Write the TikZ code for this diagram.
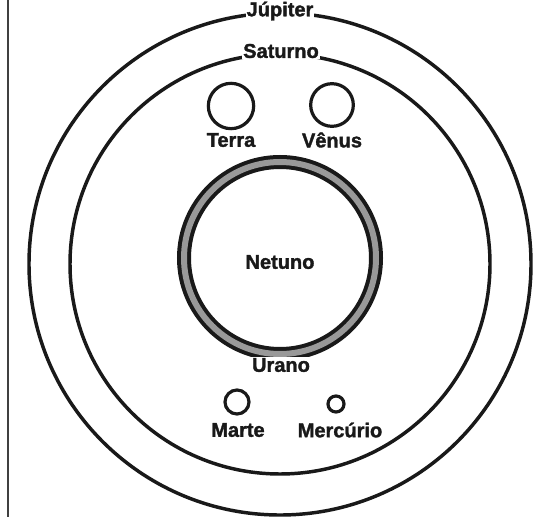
\documentclass[tikz,border=0pt]{standalone}
\usepackage{fontspec}
\setmainfont{Liberation Sans}[BoldFont={Liberation Sans Bold}, BoldFeatures={FakeBold=1.6}]
\usetikzlibrary{positioning}

\tikzset{
  orbita/.style={line width=2.6pt, draw=black!90},
  pianeta/.style={circle, draw=black!90, line width=2.4pt, inner sep=0pt},
  nome/.style={font=\bfseries\fontsize{15}{16}\selectfont, text=black!90, inner sep=0.8pt},
  nomeorbita/.style={nome, fill=white}
}

\begin{document}
\begin{tikzpicture}[x=0.75pt, y=-0.75pt]
\useasboundingbox (0,0) rectangle (539,517);
% =====================
% BORDO
% =====================
\draw[line width=1.1pt, black!75] (8,0) -- (8,517);

% =====================
% ORBITE
% =====================
\draw[orbita] (280,264) circle[radius=251];
\draw[orbita] (280,264) circle[radius=210];
\draw[line width=10.5pt, black!90] (280,258) circle[radius=96];
\draw[line width=4.5pt, black!40] (280,258) circle[radius=96];

% =====================
% NOMI DELLE ORBITE
% =====================
\node[nomeorbita] (jupiter) at (280,11) {Júpiter};
\node[nomeorbita] (saturno) at (281,51) {Saturno};
\node[nomeorbita] (urano) at (281,365) {Urano};
\node[nome] (netuno) at (280,262) {Netuno};

% =====================
% PIANETI
% =====================
\node[pianeta, minimum size=34pt] (terra) at (231,106) {};
\node[pianeta, minimum size=32pt] (venus) at (332,105) {};
\node[pianeta, minimum size=18pt] (marte) at (237,402) {};
\node[pianeta, minimum size=12pt] (mercurio) at (336,404) {};

\node[nome] (terralbl) at (231,140) {Terra};
\node[nome] (venuslbl) at (332,140) {Vênus};
\node[nome] (martelbl) at (238,430) {Marte};
\node[nome] (mercuriolbl) at (340,430) {Mercúrio};

\end{tikzpicture}
\end{document}
